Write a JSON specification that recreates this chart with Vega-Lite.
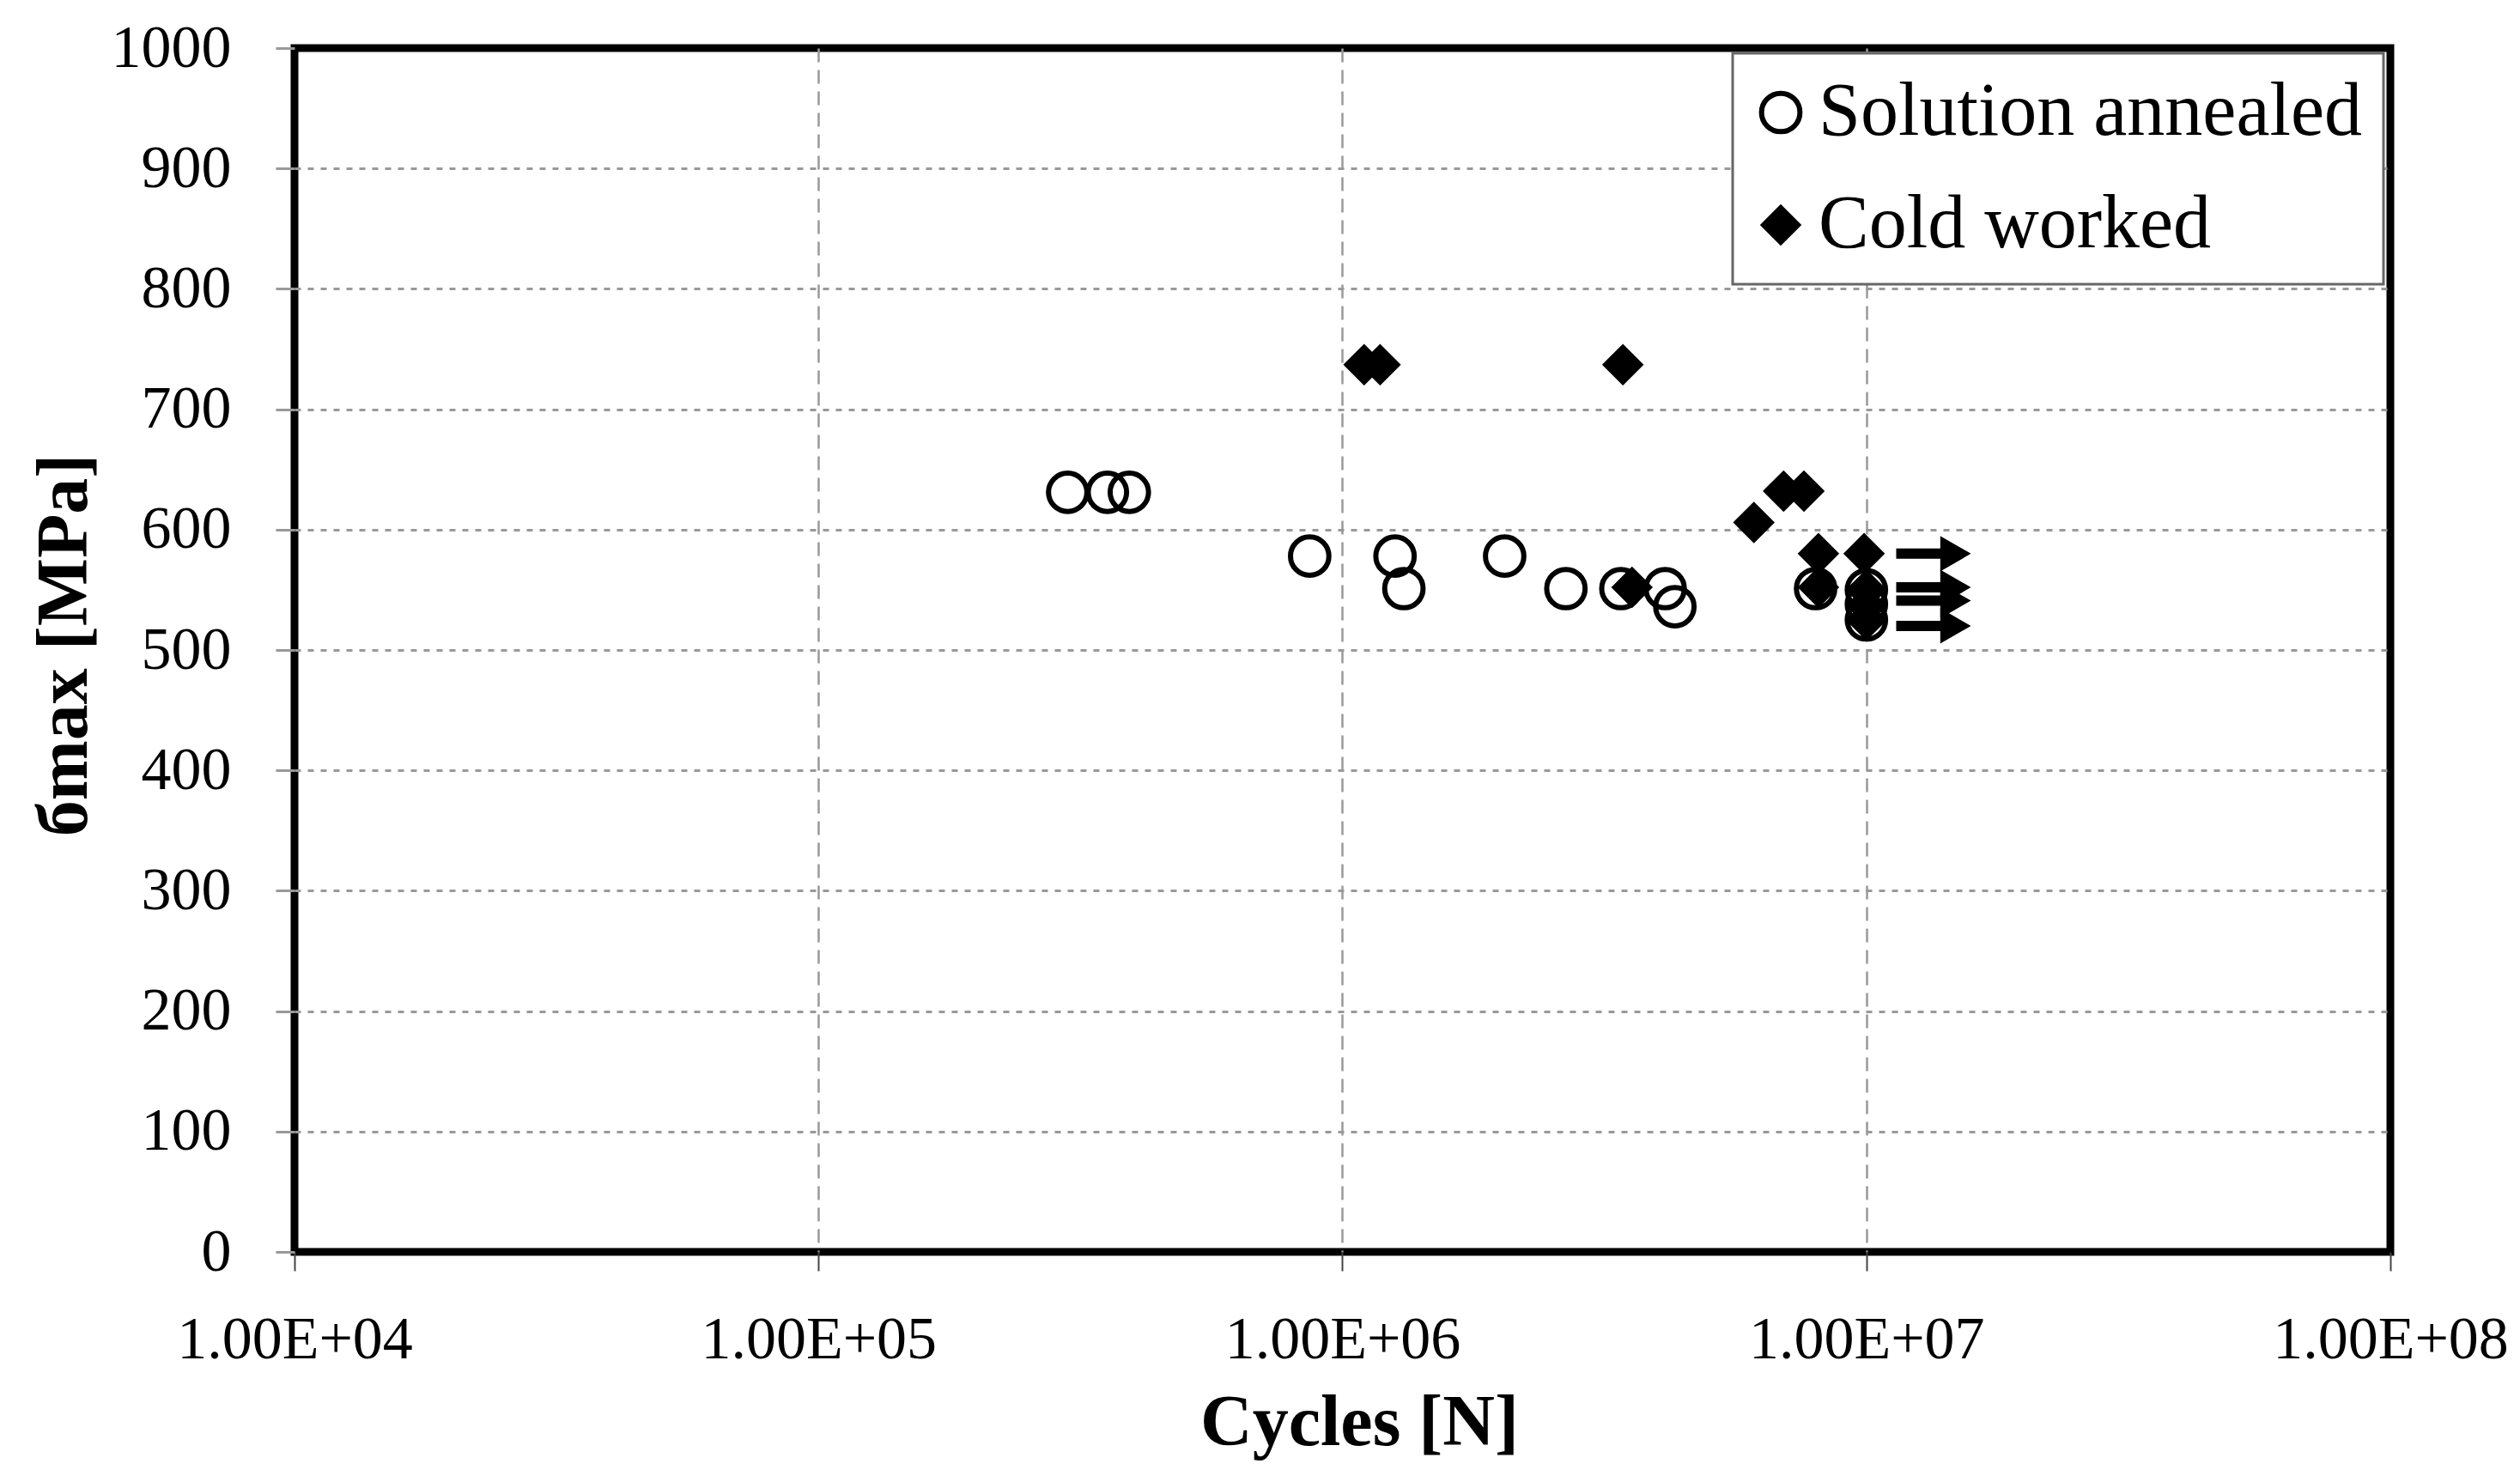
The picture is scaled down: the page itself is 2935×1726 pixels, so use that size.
{
  "$schema": "https://vega.github.io/schema/vega-lite/v6.json",
  "width": 2441,
  "height": 1402,
  "autosize": {"type": "none"},
  "padding": {"left": 343, "top": 56, "right": 151, "bottom": 268},
  "background": "white",
  "config": {
    "view": {"stroke": "black", "strokeWidth": 9},
    "legend": {"strokeWidth": 3},
    "axis": {
      "labelFont": "Liberation Serif",
      "labelFontSize": 70,
      "labelColor": "black",
      "labelLimit": 0,
      "titleFont": "Liberation Serif",
      "titleFontSize": 84,
      "titleFontWeight": "bold",
      "titleColor": "black",
      "titleLimit": 0,
      "domain": false
    }
  },
  "layer": [
    {
      "data": {
        "values": [
          {"cycles": 299000, "stress": 631, "treatment": "Solution annealed"},
          {"cycles": 356000, "stress": 631, "treatment": "Solution annealed"},
          {"cycles": 392000, "stress": 631, "treatment": "Solution annealed"},
          {"cycles": 866000, "stress": 578, "treatment": "Solution annealed"},
          {"cycles": 1260000, "stress": 578, "treatment": "Solution annealed"},
          {"cycles": 1310000, "stress": 551, "treatment": "Solution annealed"},
          {"cycles": 2040000, "stress": 578, "treatment": "Solution annealed"},
          {"cycles": 2670000, "stress": 551, "treatment": "Solution annealed"},
          {"cycles": 3400000, "stress": 551, "treatment": "Solution annealed"},
          {"cycles": 4130000, "stress": 551, "treatment": "Solution annealed"},
          {"cycles": 4310000, "stress": 536, "treatment": "Solution annealed"},
          {"cycles": 8000000, "stress": 551, "treatment": "Solution annealed"},
          {"cycles": 10000000, "stress": 550, "treatment": "Solution annealed"},
          {"cycles": 10000000, "stress": 538, "treatment": "Solution annealed"},
          {"cycles": 10000000, "stress": 525, "treatment": "Solution annealed"},
          {"cycles": 1100000, "stress": 737, "treatment": "Cold worked"},
          {"cycles": 1180000, "stress": 737, "treatment": "Cold worked"},
          {"cycles": 3430000, "stress": 737, "treatment": "Cold worked"},
          {"cycles": 6100000, "stress": 606, "treatment": "Cold worked"},
          {"cycles": 6950000, "stress": 632, "treatment": "Cold worked"},
          {"cycles": 7600000, "stress": 632, "treatment": "Cold worked"},
          {"cycles": 8100000, "stress": 580, "treatment": "Cold worked"},
          {"cycles": 9900000, "stress": 580, "treatment": "Cold worked"},
          {"cycles": 3570000, "stress": 552, "treatment": "Cold worked"},
          {"cycles": 8100000, "stress": 552, "treatment": "Cold worked"},
          {"cycles": 10000000, "stress": 550, "treatment": "Cold worked"},
          {"cycles": 10000000, "stress": 537, "treatment": "Cold worked"},
          {"cycles": 10000000, "stress": 525, "treatment": "Cold worked"}
        ]
      },
      "mark": {"type": "point", "filled": true, "stroke": "black", "strokeWidth": 6, "opacity": 1},
      "encoding": {
        "x": {
          "field": "cycles",
          "type": "quantitative",
          "scale": {"type": "log", "domain": [10000, 100000000], "nice": false},
          "axis": {
            "values": [10000, 100000, 1000000, 10000000, 100000000],
            "labelExpr": "'1.00E+0' + round(log(datum.value) / LN10)",
            "tickSize": 22,
            "tickColor": "#444",
            "tickWidth": 2,
            "labelPadding": 80,
            "labelBaseline": "middle",
            "labelFlush": false,
            "labelOverlap": false,
            "grid": true,
            "gridColor": "#999",
            "gridDash": [16, 9],
            "gridWidth": 2.5,
            "gridOpacity": {"condition": {"test": "datum.value <= 10000 || datum.value >= 100000000", "value": 0}, "value": 1},
            "title": "Cycles [N]",
            "titleX": 1240,
            "titleY": 199,
            "titleBaseline": "middle"
          }
        },
        "y": {
          "field": "stress",
          "type": "quantitative",
          "scale": {"domain": [0, 1000], "nice": false},
          "axis": {
            "values": [0, 100, 200, 300, 400, 500, 600, 700, 800, 900, 1000],
            "format": "d",
            "tickSize": 22,
            "tickColor": "#999",
            "tickWidth": 3,
            "labelPadding": 52,
            "labelBaseline": "middle",
            "labelFlush": false,
            "labelOverlap": false,
            "grid": true,
            "gridColor": "#999",
            "gridDash": [7, 8],
            "gridWidth": 3,
            "gridOpacity": {"condition": {"test": "datum.value <= 0 || datum.value >= 1000", "value": 0}, "value": 1},
            "title": "бmax [MPa]",
            "titleX": -268,
            "titleY": 695,
            "titleAngle": -90,
            "titleAlign": "center",
            "titleBaseline": "middle"
          }
        },
        "shape": {
          "field": "treatment",
          "type": "nominal",
          "scale": {"domain": ["Solution annealed", "Cold worked"], "range": ["circle", "diamond"]},
          "legend": {
            "title": null,
            "orient": "none",
            "legendX": 1675,
            "legendY": 6,
            "padding": 25,
            "fillColor": "white",
            "strokeColor": "#666",
            "labelFont": "Liberation Serif",
            "labelFontSize": 88,
            "labelColor": "black",
            "labelLimit": 0,
            "labelOffset": 0,
            "symbolOffset": -13,
            "rowPadding": 43,
            "symbolStrokeColor": "black",
            "symbolStrokeWidth": 6
          }
        },
        "fill": {
          "field": "treatment",
          "type": "nominal",
          "scale": {"domain": ["Solution annealed", "Cold worked"], "range": ["transparent", "black"]}
        },
        "size": {
          "field": "treatment",
          "type": "ordinal",
          "scale": {"domain": ["Solution annealed", "Cold worked"], "range": [2000, 1600]}
        }
      }
    },
    {
      "data": {
        "values": [
          {"start": 11400000, "end": 14800000, "stress": 580},
          {"start": 11400000, "end": 14800000, "stress": 552},
          {"start": 11400000, "end": 14800000, "stress": 541},
          {"start": 11400000, "end": 14800000, "stress": 520}
        ]
      },
      "layer": [
        {
          "mark": {"type": "rule", "color": "black", "strokeWidth": 12},
          "encoding": {
            "x": {"field": "start", "type": "quantitative"},
            "x2": {"field": "end"},
            "y": {"field": "stress", "type": "quantitative"}
          }
        },
        {
          "mark": {"type": "point", "shape": "triangle-right", "filled": true, "color": "black", "size": 1700, "opacity": 1},
          "encoding": {
            "x": {"field": "end", "type": "quantitative"},
            "y": {"field": "stress", "type": "quantitative"}
          }
        }
      ]
    }
  ]
}
